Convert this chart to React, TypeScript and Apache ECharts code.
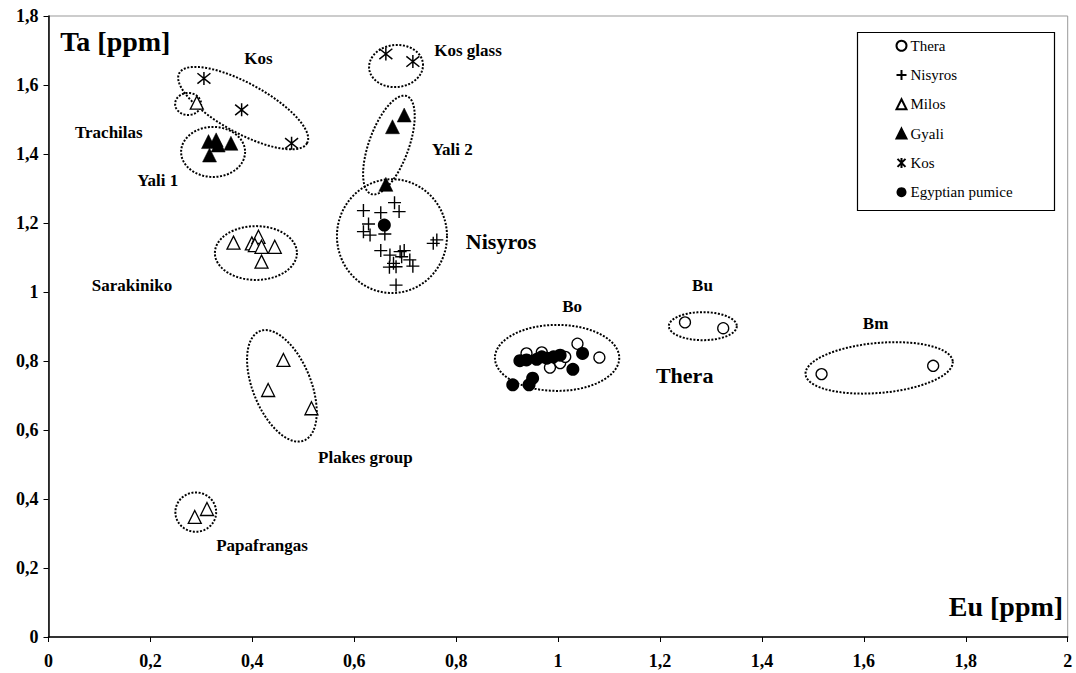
import React, { useEffect, useRef } from "react";
import * as echarts from "echarts";

// ---- data (Eu ppm, Ta ppm) ----
const thera: number[][] = [
  [0.938, 0.822], [0.968, 0.825], [0.984, 0.781], [1.004, 0.794], [1.014, 0.812],
  [1.038, 0.85], [1.081, 0.81],
  [1.249, 0.912], [1.324, 0.895],
  [1.517, 0.762], [1.736, 0.786],
];
const nisyros: number[][] = [
  [0.618, 1.236], [0.652, 1.23], [0.679, 1.259], [0.688, 1.233], [0.628, 1.197],
  [0.618, 1.175], [0.631, 1.165], [0.66, 1.168], [0.652, 1.12], [0.67, 1.107],
  [0.69, 1.117], [0.698, 1.12], [0.693, 1.102], [0.677, 1.083], [0.669, 1.072],
  [0.682, 1.073], [0.709, 1.093], [0.715, 1.075], [0.682, 1.02], [0.755, 1.141],
  [0.762, 1.151],
];
const milos: number[][] = [
  [0.291, 1.549],
  [0.363, 1.143], [0.399, 1.141], [0.412, 1.16], [0.405, 1.136], [0.418, 1.131],
  [0.444, 1.131], [0.418, 1.088],
  [0.461, 0.803], [0.431, 0.716], [0.516, 0.663],
  [0.287, 0.348], [0.311, 0.371],
];
const gyali: number[][] = [
  [0.314, 1.436], [0.329, 1.441], [0.333, 1.426], [0.358, 1.431], [0.316, 1.397],
  [0.698, 1.513], [0.675, 1.479], [0.662, 1.312],
];
const kos: number[][] = [
  [0.305, 1.619], [0.379, 1.528], [0.477, 1.431],
  [0.662, 1.69], [0.715, 1.668],
];
const egyptian: number[][] = [
  [0.911, 0.731], [0.943, 0.731], [0.95, 0.75], [0.925, 0.801], [0.938, 0.803],
  [0.958, 0.805], [0.968, 0.812], [0.978, 0.808], [0.991, 0.812], [1.004, 0.817],
  [1.029, 0.776], [1.048, 0.822],
  [0.659, 1.194],
];

const xTicks = [0, 0.2, 0.4, 0.6, 0.8, 1, 1.2, 1.4, 1.6, 1.8, 2];
const yTicks = [0, 0.2, 0.4, 0.6, 0.8, 1, 1.2, 1.4, 1.6, 1.8];

// group outlines: centre (data), semi-axes (data units), rotation (deg)
const groupCenters: number[][] = [
  [0.382, 1.533], [0.274, 1.545], [0.323, 1.406], [0.682, 1.655], [0.668, 1.426],
  [0.674, 1.162], [0.407, 1.113], [0.458, 0.728], [0.289, 0.362], [0.998, 0.809],
  [1.284, 0.901], [1.63, 0.78],
];
const groupAxes: number[][] = [
  [0.143, 0.072], [0.0255, 0.0319], [0.0628, 0.0725], [0.053, 0.061], [0.039, 0.151],
  [0.108, 0.165], [0.0805, 0.078], [0.057, 0.171], [0.04, 0.057], [0.122, 0.0957],
  [0.0667, 0.0406], [0.145, 0.0725],
];
const groupRotation: number[] = [28.7, 0, 0, -5, 20, 0, 0, -22, 0, 0, 0, -5];

// text annotations
const labelTexts = [
  "Ta [ppm]", "Eu [ppm]", "Kos", "Kos glass", "Trachilas", "Yali 1", "Yali 2", "Nisyros",
  "Sarakiniko", "Plakes group", "Papafrangas", "Bo", "Bu", "Bm", "Thera",
];
const labelPos: number[][] = [
  [0.023, 1.725], [1.991, 0.087], [0.384, 1.678], [0.757, 1.701], [0.052, 1.461],
  [0.174, 1.322], [0.752, 1.412], [0.819, 1.145], [0.085, 1.02], [0.529, 0.519],
  [0.329, 0.264], [1.008, 0.959], [1.263, 1.02], [1.598, 0.91], [1.192, 0.757],
];
const labelSize: number[] = [28, 28, 17, 17, 17, 17, 17, 22, 17, 17, 17, 17, 17, 17, 22];

const FONT = "'Liberation Serif', 'Times New Roman', serif";
const PLUS = "path://M0,5L10,5M5,0L5,10";
const STAR = "path://M1,1L9,9M9,1L1,9M5,0L5,10";

export default function App() {
  const ref = useRef<HTMLDivElement>(null);
  useEffect(() => {
    if (!ref.current) return;
    const chart = echarts.init(ref.current, undefined, { renderer: "svg" });
    const fmt = (v: number) => String(+v.toFixed(1)).replace(".", ",");
    const axisCommon = {
      axisLine: { show: true, lineStyle: { color: "#000", width: 1.5 } },
      axisTick: { show: true, inside: false, length: 5, lineStyle: { color: "#000", width: 1 } },
      splitLine: { show: false },
      axisLabel: {
        fontFamily: FONT, fontWeight: "bold" as const, fontSize: 18, color: "#000",
        formatter: fmt,
      },
    };
    const option: any = {
      animation: false,
      backgroundColor: "#fff",
      grid: {
        left: 48.5, right: 8.3, top: 16, bottom: 36,
        show: true, borderColor: "#999", borderWidth: 1,
      },
      xAxis: {
        type: "value", min: xTicks[0], max: xTicks[xTicks.length - 1], interval: 0.2,
        ...axisCommon,
        axisLabel: { ...axisCommon.axisLabel, margin: 15 },
      },
      yAxis: {
        type: "value", min: yTicks[0], max: yTicks[yTicks.length - 1], interval: 0.2,
        ...axisCommon,
        axisLabel: { ...axisCommon.axisLabel, margin: 10 },
      },
      legend: {
        data: ["Thera", "Nisyros", "Milos", "Gyali", "Kos", "Egyptian pumice"],
        orient: "vertical",
        left: 894, top: 38.2,
        itemWidth: 10, itemHeight: 10, itemGap: 14.3,
        padding: 0,
        textStyle: { fontFamily: FONT, fontSize: 15, color: "#000", padding: [0, 0, 0, -1] },
      },
      graphic: [
        {
          type: "rect", left: 855, top: 30, z: 10,
          shape: { width: 197, height: 178 },
          style: { fill: "none", stroke: "#000", lineWidth: 1.2 },
        },
      ],
      series: [
        {
          type: "custom", name: "outlines", silent: true, z: 1,
          data: groupCenters,
          renderItem: (params: any, api: any) => {
            const i = params.dataIndex;
            const c = api.coord(groupCenters[i]);
            const a = api.size([groupAxes[i][0], 0])[0];
            const b = api.size([0, groupAxes[i][1]])[1];
            const th = (groupRotation[i] * Math.PI) / 180;
            const pts: number[][] = [];
            for (let k = 0; k < 120; k++) {
              const t = (k / 120) * Math.PI * 2;
              const u = a * Math.cos(t), v = b * Math.sin(t);
              pts.push([c[0] + u * Math.cos(th) - v * Math.sin(th), c[1] + u * Math.sin(th) + v * Math.cos(th)]);
            }
            return {
              type: "polygon",
              shape: { points: pts },
              style: { fill: "none", stroke: "#000", lineWidth: 2, lineDash: [2, 1.6] },
            };
          },
        },
        {
          type: "custom", name: "labels", silent: true, z: 3,
          data: labelPos,
          renderItem: (params: any, api: any) => {
            const i = params.dataIndex;
            const c = api.coord(labelPos[i]);
            return {
              type: "text",
              x: c[0], y: c[1],
              style: {
                text: labelTexts[i],
                fontFamily: FONT, fontWeight: "bold", fontSize: labelSize[i],
                fill: "#000",
                align: i === 1 ? "right" : "left",
                verticalAlign: "middle",
              },
            };
          },
        },
        {
          type: "scatter", name: "Thera", data: thera, symbol: "circle", symbolSize: 11, z: 5,
          itemStyle: { color: "#fff", borderColor: "#000", borderWidth: 1.3, opacity: 1 },
        },
        {
          type: "scatter", name: "Nisyros", data: nisyros, symbol: PLUS, symbolSize: 13, z: 5,
          itemStyle: { color: "none", borderColor: "#000", borderWidth: 1.4, opacity: 1 },
        },
        {
          type: "scatter", name: "Milos", data: milos, symbol: "triangle", symbolSize: 13, z: 5,
          itemStyle: { color: "#fff", borderColor: "#000", borderWidth: 1.3, opacity: 1 },
        },
        {
          type: "scatter", name: "Gyali", data: gyali, symbol: "triangle", symbolSize: 14, z: 5,
          itemStyle: { color: "#000", borderColor: "#000", borderWidth: 0.5, opacity: 1 },
        },
        {
          type: "scatter", name: "Kos", data: kos, symbol: STAR, symbolSize: 13, z: 5,
          itemStyle: { color: "none", borderColor: "#000", borderWidth: 1.5, opacity: 1 },
        },
        {
          type: "scatter", name: "Egyptian pumice", data: egyptian, symbol: "circle", symbolSize: 13, z: 6,
          itemStyle: { color: "#000", borderColor: "#000", borderWidth: 0, opacity: 1 },
        },
      ],
    };
    chart.setOption(option);
    return () => chart.dispose();
  }, []);
  return (
    <div
      ref={ref}
      style={{ position: "fixed", left: 0, top: 0, width: 1076, height: 673, background: "#fff" }}
    />
  );
}
